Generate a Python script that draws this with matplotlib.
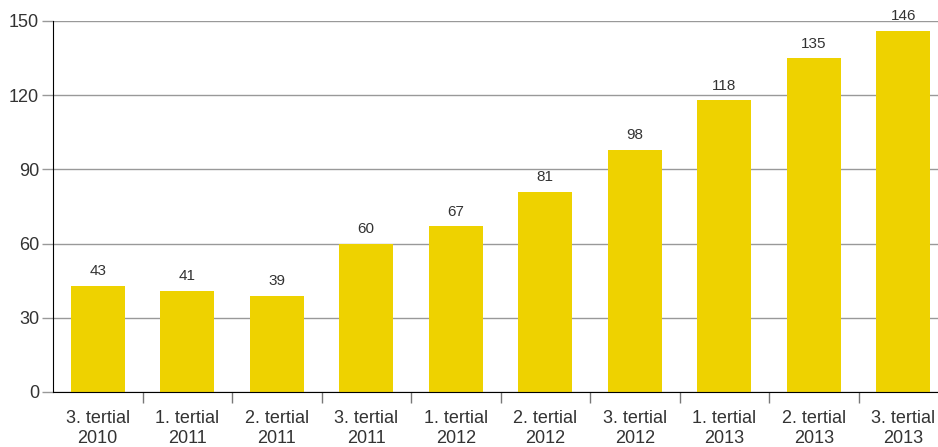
import matplotlib.pyplot as plt
import numpy as np

periods = ["3. tertial\n2010", "1. tertial\n2011", "2. tertial\n2011", "3. tertial\n2011",
           "1. tertial\n2012", "2. tertial\n2012", "3. tertial\n2012", "1. tertial\n2013",
           "2. tertial\n2013", "3. tertial\n2013"]
values = [43, 41, 39, 60, 67, 81, 98, 118, 135, 146]
yticks = [0, 30, 60, 90, 120, 150]

plt.rcParams['font.family'] = ['Liberation Sans', 'DejaVu Sans']

fig = plt.figure(figsize=(9.38, 4.47), dpi=100)
# axes runs a bit past the right edge, like the original
ax = fig.add_axes([53/938, 55/447, 895/938, 371/447])

x = np.arange(len(values))
ax.bar(x, values, width=0.6, color='#EED200', zorder=3)
for xi, v in zip(x, values):
    ax.text(xi, v + 3, str(v), ha='center', va='bottom', fontsize=11, color='#333333', zorder=4)

ax.set_xlim(-0.5, len(values) - 0.5)
ax.set_ylim(0, 150)
ax.set_yticks(yticks)
ax.set_yticklabels([str(t) for t in yticks], fontsize=13, color='#333333')
ax.yaxis.grid(True, color='#999999', linewidth=1, zorder=0)
ax.tick_params(axis='y', length=8, width=1, color='#999999', pad=2)

# category labels at centres, tick marks between categories
ax.set_xticks(x)
ax.set_xticklabels(periods, fontsize=13, color='#333333', linespacing=1.25)
ax.tick_params(axis='x', which='major', length=0, pad=13)
ax.set_xticks(np.arange(0.5, len(values) - 0.5), minor=True)
ax.tick_params(axis='x', which='minor', length=8, width=1, color='#777777')

for s in ['top', 'right']:
    ax.spines[s].set_visible(False)
ax.spines['left'].set_color('black')
ax.spines['bottom'].set_color('black')
ax.spines['left'].set_zorder(5)
ax.spines['bottom'].set_zorder(5)

fig.savefig('out.png', dpi=100)
